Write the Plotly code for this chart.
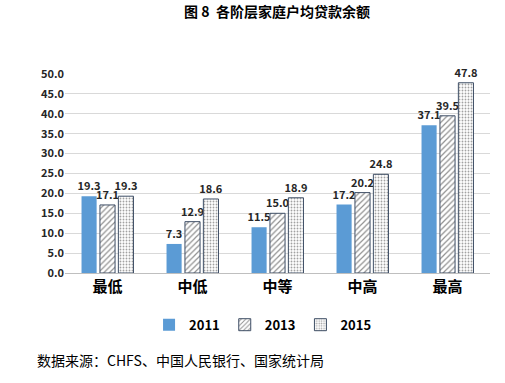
import plotly.graph_objects as go

categories = ["最低", "中低", "中等", "中高", "最高"]
v2011 = [19.3, 7.3, 11.5, 17.2, 37.1]
v2013 = [17.1, 12.9, 15.0, 20.2, 39.5]
v2015 = [19.3, 18.6, 18.9, 24.8, 47.8]
series_names = ["2011", "2013", "2015"]

FONT = "Noto Sans CJK SC"
lab_font = dict(family=FONT, size=11, color="#262626", weight="bold")

fig = go.Figure()
fig.add_trace(go.Bar(
    x=categories, y=v2011, name=series_names[0],
    marker=dict(color="#5B9BD5", line=dict(width=0)),
    text=[f"{v:.1f}" for v in v2011], textposition="outside", constraintext="none",
    textfont=lab_font, cliponaxis=False,
))
fig.add_trace(go.Bar(
    x=categories, y=v2013, name=series_names[1],
    marker=dict(color="white", line=dict(width=1, color="#3F4F66"),
                pattern=dict(shape="/", fgcolor="#222222", bgcolor="white", size=4, solidity=0.3)),
    text=[f"{v:.1f}" for v in v2013], textposition="outside", constraintext="none",
    textfont=lab_font, cliponaxis=False,
))
fig.add_trace(go.Bar(
    x=categories, y=v2015, name=series_names[2],
    marker=dict(color="white", line=dict(width=1, color="#3F4F66"),
                pattern=dict(shape=".", fgcolor="#444444", bgcolor="white", size=3, solidity=0.3)),
    text=[f"{v:.1f}" for v in v2015], textposition="outside", constraintext="none",
    textfont=lab_font, cliponaxis=False,
))

fig.update_layout(
    width=505, height=383,
    margin=dict(l=65, r=15, t=74, b=110),
    paper_bgcolor="white", plot_bgcolor="white",
    barmode="group", bargap=0.35, bargroupgap=0.18,
    title=dict(text="图 8  各阶层家庭户均贷款余额", x=277 / 505, xanchor="center",
               y=1 - 12 / 383, yanchor="middle",
               font=dict(family=FONT, size=14, color="#000000", weight="bold")),
    xaxis=dict(showgrid=False, showline=True, linecolor="#BFBFBF", linewidth=1,
               ticks="", tickfont=dict(family=FONT, size=15, color="#000000", weight="bold")),
    yaxis=dict(range=[0, 50], dtick=5, tickformat=".1f", showgrid=True,
               gridcolor="#D9D9D9", gridwidth=1, zeroline=False, showline=False,
               ticks="", tickfont=dict(family=FONT, size=11, color="#262626", weight="bold")),
    legend=dict(orientation="h", x=0.466, xanchor="center", y=-0.26, yanchor="middle",
                font=dict(family=FONT, size=13, color="#000000", weight="bold"),
                itemwidth=30, tracegroupgap=0),
    showlegend=True,
    annotations=[dict(text="数据来源：CHFS、中国人民银行、国家统计局", xref="paper", yref="paper",
                      x=-0.07, y=-0.437, xanchor="left", yanchor="middle", showarrow=False,
                      font=dict(family=FONT, size=14, color="#000000"))],
)

fig.write_html("out.html", config={"displayModeBar": False},
               post_script="document.body.style.margin='0';")
